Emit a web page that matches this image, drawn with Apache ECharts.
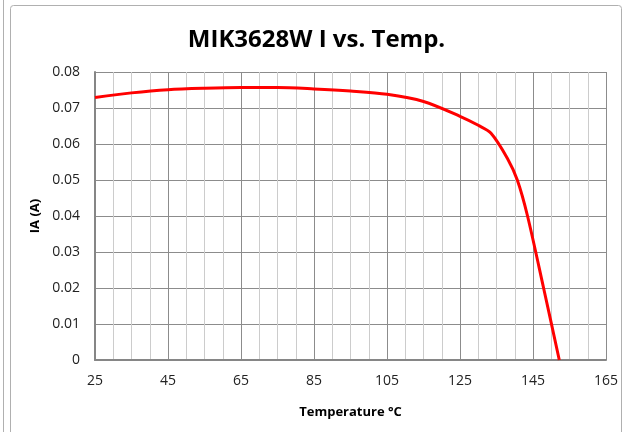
<!DOCTYPE html>
<html><head><meta charset="utf-8">
<script src="https://cdn.jsdelivr.net/npm/echarts@6/dist/echarts.min.js"></script>
<style>html,body{margin:0;padding:0;background:#fff}#c{width:633px;height:432px}</style>
</head><body><div id="c"></div>
<script>
const chartTitle = 'MIK3628W I vs. Temp.';
const xName = 'Temperature \u00B0C';
const yName = 'IA (A)';
const temperature = [25, 35, 45, 55, 65, 75, 85, 95, 105, 115, 125, 130, 133.5, 138, 140.7, 143.5, 147.9, 152.2];
const current = [0.0729, 0.0742, 0.0751, 0.0755, 0.0757, 0.0757, 0.0753, 0.0747, 0.0738, 0.0718, 0.0677, 0.0652, 0.0630, 0.0560, 0.0500, 0.0400, 0.0200, 0];
const xMajorTicks = [25, 45, 65, 85, 105, 125, 145, 165];

const chart = echarts.init(document.getElementById('c'), null, {renderer: 'canvas'});
const font = "'Open Sans', 'Noto Sans', sans-serif";
chart.setOption({
  animation: false,
  backgroundColor: '#fff',
  title: {
    text: chartTitle, left: 'center', top: 23,
    textStyle: {fontFamily: font, fontSize: 24, fontWeight: 'bold', color: '#000'}
  },
  graphic: [
    {type: 'line', shape: {x1: 3.5, y1: 0, x2: 3.5, y2: 432}, style: {stroke: '#b0b0b0', lineWidth: 1}, silent: true},
    {type: 'rect', shape: {x: 10.5, y: 5.5, width: 611, height: 440, r: 3}, style: {fill: 'none', stroke: '#b0b0b0', lineWidth: 1}, silent: true}
  ],
  grid: {left: 95, right: 27, top: 72, bottom: 72, containLabel: false},
  xAxis: {
    type: 'value', min: 25, max: 165, interval: 5,
    name: xName, nameLocation: 'middle', nameGap: 46,
    nameTextStyle: {fontFamily: font, fontSize: 13, fontWeight: 'bold', color: '#000'},
    axisLine: {show: true, lineStyle: {color: '#868686', width: 2}},
    axisTick: {show: false},
    axisLabel: {
      margin: 14, fontFamily: font, fontSize: 14, color: '#222',
      formatter: v => xMajorTicks.indexOf(Math.round(v)) >= 0 ? String(Math.round(v)) : ''
    },
    splitLine: {show: true, lineStyle: {color: ['#8c8c8c', '#cccccc', '#cccccc', '#cccccc'], width: 1}}
  },
  yAxis: {
    type: 'value', min: 0, max: 0.08, interval: 0.01,
    name: yName, nameLocation: 'middle', nameGap: 49, nameRotate: 90,
    nameTextStyle: {fontFamily: font, fontSize: 13, fontWeight: 'bold', color: '#000'},
    axisLine: {show: true, lineStyle: {color: '#868686', width: 2}},
    axisTick: {show: false},
    axisLabel: {
      margin: 15, fontFamily: font, fontSize: 14, color: '#222',
      formatter: v => v === 0 ? '0' : v.toFixed(2)
    },
    splitLine: {show: true, lineStyle: {color: '#8c8c8c', width: 1}}
  },
  series: [{
    type: 'line',
    data: temperature.map((t, i) => [t, current[i]]),
    showSymbol: false,
    smooth: 0.3,
    lineStyle: {color: '#ff0000', width: 3},
    itemStyle: {color: '#ff0000'}
  }]
});
</script>
</body></html>
